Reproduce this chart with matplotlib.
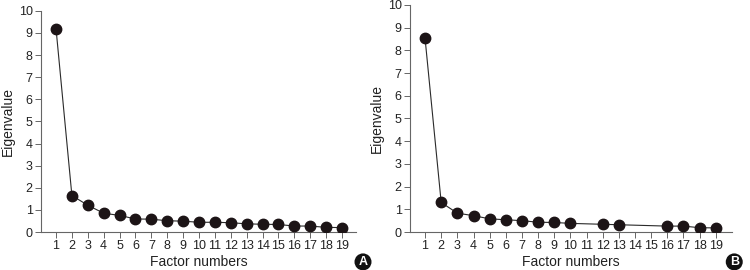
import numpy as np
import matplotlib.pyplot as plt

plt.rcParams['font.family'] = ['Liberation Sans', 'DejaVu Sans']

# Panel A
factors_a = [1, 2, 3, 4, 5, 6, 7, 8, 9, 10, 11, 12, 13, 14, 15, 16, 17, 18, 19]
eigen_a = [9.2, 1.65, 1.21, 0.85, 0.75, 0.59, 0.58, 0.51, 0.49, 0.44, 0.44, 0.42,
           0.37, 0.35, 0.34, 0.27, 0.27, 0.21, 0.20]

# Panel B (no points at 11, 14, 15)
factors_b = [1, 2, 3, 4, 5, 6, 7, 8, 9, 10, 12, 13, 16, 17, 18, 19]
eigen_b = [8.53, 1.30, 0.83, 0.72, 0.58, 0.54, 0.50, 0.43, 0.42, 0.38,
           0.34, 0.32, 0.26, 0.26, 0.19, 0.18]

tick_labels = [str(i) for i in range(1, 20)]

fig = plt.figure(figsize=(7.5, 2.7), dpi=100)
ax_a = fig.add_axes([0.0547, 0.1407, 0.42, 0.819])
ax_b = fig.add_axes([0.5467, 0.1407, 0.429, 0.841])

panels = [(ax_a, factors_a, eigen_a, (0.057, 19.88), 'A', 0.484),
          (ax_b, factors_b, eigen_b, (0.07, 19.99), 'B', 0.979)]

for ax, x, y, xl, tag, tx in panels:
    ax.plot(x, y, color='#2a2a2a', lw=0.8, marker='o', ms=7.5,
            mfc='#1c1416', mec='#1c1416', zorder=3)
    ax.set_xlim(*xl)
    ax.set_ylim(0, 10)
    ax.set_xticks(range(1, 20))
    ax.set_xticklabels(tick_labels)
    ax.set_yticks(range(0, 11))
    for s in ['top', 'right']:
        ax.spines[s].set_visible(False)
    for s in ['left', 'bottom']:
        ax.spines[s].set_color('#666666')
        ax.spines[s].set_linewidth(0.8)
    ax.tick_params(direction='out', length=4, width=0.7, color='#666666',
                   labelsize=9, labelcolor='#222222', pad=2)
    ax.set_xlabel('Factor numbers', fontsize=10, color='#222222', va='center')
    ax.set_ylabel('Eigenvalue', fontsize=10, color='#222222', va='center')
    h = ax.get_position().height * 270
    w = ax.get_position().width * 750
    ax.xaxis.set_label_coords(0.5, -30 / h)
    ax.yaxis.set_label_coords(-33 / w, 0.5)
    fig.text(tx, 0.03, tag, ha='center', va='center', color='white',
             fontsize=9, fontweight='bold',
             bbox=dict(boxstyle='circle,pad=0.2', fc='#111111', ec='none'))

fig.savefig('out.png', dpi=100)
